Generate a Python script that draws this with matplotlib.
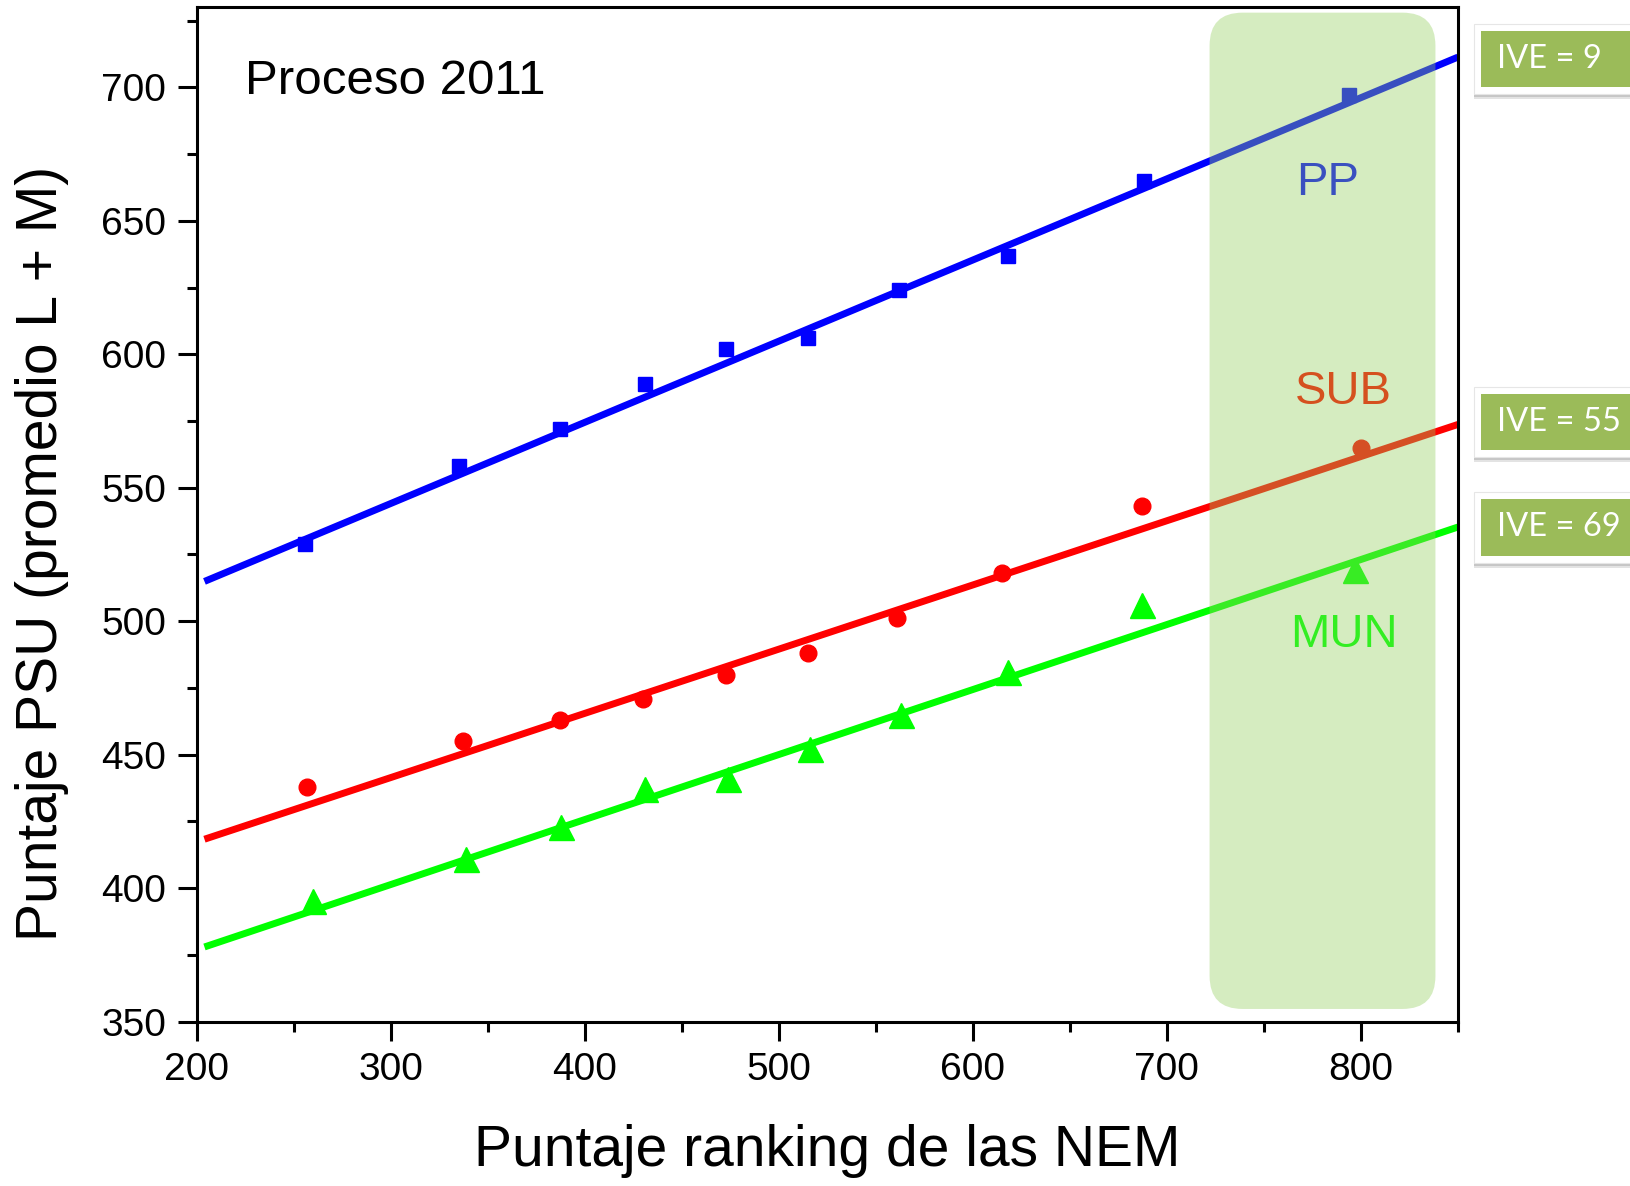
import matplotlib
matplotlib.use("Agg")
import matplotlib.pyplot as plt
from matplotlib.patches import FancyBboxPatch, Rectangle
import numpy as np

# values
nem_pp = [256, 335, 387, 431, 473, 515, 562, 618, 688, 794]
psu_pp = [529, 558, 572, 589, 602, 606, 624, 637, 665, 697]

nem_sub = [257, 337, 387, 430, 473, 515, 561, 615, 687, 800]
psu_sub = [438, 455, 463, 471, 480, 488, 501, 518, 543, 565]

nem_mun = [260, 339, 388, 431, 474, 516, 563, 618, 687, 797]
psu_mun = [395, 411, 423, 437, 441, 452, 465, 481, 506, 519]

groups = ["PP", "SUB", "MUN"]
ive_labels = ["IVE = 9", "IVE = 55", "IVE = 69"]

W, H = 1631, 1186
plt.rcParams['font.family'] = ['Liberation Sans', 'DejaVu Sans']

fig = plt.figure(figsize=(W / 100, H / 100), dpi=100)
ax = fig.add_axes([0.1206, 0.1387, 0.8939 - 0.1206, 0.99384 - 0.1387])

series = [
    (nem_pp, psu_pp, '#0000ff', 's', 10),
    (nem_sub, psu_sub, '#ff0000', 'o', 12),
    (nem_mun, psu_mun, '#00ff00', '^', 18),
]
xfit = np.array([204, 850])
for xs, ys, col, mk, ms in series:
    ax.plot(xs, ys, ls='none', marker=mk, ms=ms, color=col, mec=col, zorder=3)
    b, a = np.polyfit(xs, ys, 1)
    ax.plot(xfit, a + b * xfit - 1.2, color=col, lw=5, solid_capstyle='butt', zorder=2)

# shaded band over the high NEM scores
band = FancyBboxPatch((722, 354.7), 838.4 - 722, 728 - 354.7,
                      boxstyle="round,pad=0,rounding_size=17",
                      mutation_aspect=0.728, fc='#93ce5d', ec='none',
                      alpha=0.39, zorder=4)
ax.add_patch(band)

ax.text(783, 664, "PP", color='#3a50c0', fontsize=34, ha='center', va='center', zorder=5)
ax.text(791, 586, "SUB", color='#d5501f', fontsize=34, ha='center', va='center', zorder=5)
ax.text(791, 495, "MUN", color='#33ee22', fontsize=34, ha='center', va='center', zorder=5)
ax.text(0.038, 0.915, "Proceso 2011", transform=ax.transAxes, fontsize=35.5,
        ha='left', va='baseline')

ax.set_xlim(200, 850)
ax.set_ylim(350, 730)
ax.set_xticks(np.arange(200, 801, 100))
ax.set_xticks(np.arange(250, 851, 100), minor=True)
ax.set_yticks(np.arange(350, 701, 50))
ax.set_yticks(np.arange(375, 730, 50), minor=True)
ax.tick_params(which='major', direction='out', length=14, width=2.2,
               labelsize=28, pad=8)
ax.tick_params(which='minor', direction='out', length=7.5, width=2.2)
ax.tick_params(top=False, right=False)
for sp in ax.spines.values():
    sp.set_linewidth(2.2)

ax.set_xlabel("Puntaje ranking de las NEM", fontsize=41, labelpad=26)
ax.set_ylabel("Puntaje PSU (promedio L + M)", fontsize=41)
ax.yaxis.set_label_coords(-0.101, 0.462)


# IVE boxes sitting outside the axes, in figure pixels (top-left origin)
def px_rect(x0, y0, x1, y1, **kw):
    r = Rectangle((x0 / W, 1 - y1 / H), (x1 - x0) / W, (y1 - y0) / H,
                  transform=fig.transFigure, **kw)
    fig.add_artist(r)


green_boxes = [(30.7, 87.3), (394, 450), (499.3, 555.7)]
for (gy0, gy1), lab in zip(green_boxes, ive_labels):
    px_rect(1474, gy0 - 7 + 5, 1640, gy1 + 7 + 5, fc='#b0b0b0', ec='none', alpha=0.35)
    px_rect(1474, gy0 - 7 + 3, 1640, gy1 + 7 + 3, fc='#909090', ec='none', alpha=0.35)
    px_rect(1474, gy0 - 7, 1640, gy1 + 7, fc='white', ec='#e6e6e6', lw=0.8)
    px_rect(1481, gy0, 1640, gy1, fc='#9bbb59', ec='none')
    fig.text(1497 / W, 1 - (gy0 + gy1) / 2 / H, lab, color='white', fontsize=23.5,
             family=['Lato', 'DejaVu Sans'], ha='left', va='center')

fig.savefig("out.png", dpi=100)
